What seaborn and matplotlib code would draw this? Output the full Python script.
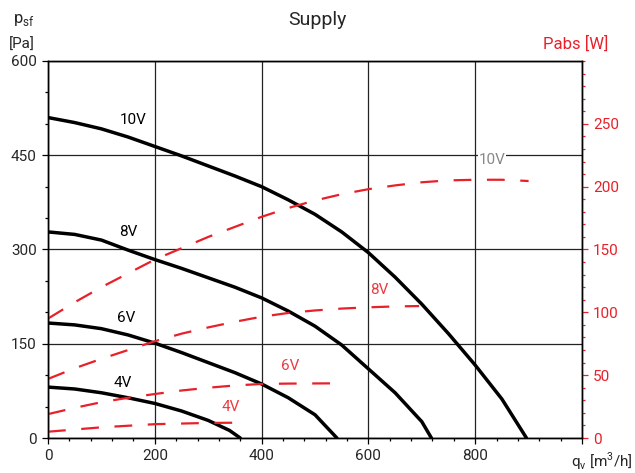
import matplotlib
matplotlib.use("Agg")
import matplotlib.pyplot as plt
import seaborn as sns
from matplotlib.ticker import MultipleLocator, FixedLocator

# Pressure curves (q_v [m3/h] -> p_sf [Pa])
q_10v = [0, 50, 100, 150, 200, 250, 300, 350, 400, 450, 500, 550, 600, 650, 700, 750, 800, 850, 896]
p_10v = [510, 502, 492, 479, 464, 449, 433, 417, 400, 379, 356, 328, 295, 256, 213, 166, 116, 62, 0]
q_8v = [0, 50, 100, 150, 200, 250, 300, 350, 400, 450, 500, 550, 600, 650, 700, 718]
p_8v = [328, 324, 315, 299, 284, 270, 255, 240, 223, 202, 178, 148, 110, 72, 26, 0]
q_6v = [0, 50, 100, 150, 200, 250, 300, 350, 400, 450, 500, 541]
p_6v = [183, 180, 174, 164, 151, 136, 120, 104, 86, 64, 37, 0]
q_4v = [0, 50, 100, 150, 200, 250, 300, 340, 360]
p_4v = [81, 78, 72, 64, 55, 43, 28, 12, 0]

# Power curves (q_v [m3/h] -> Pabs [W])
qw_10v = [0, 50, 100, 150, 200, 250, 300, 350, 400, 450, 500, 550, 600, 650, 700, 750, 800, 850, 900]
w_10v = [95, 108, 120, 131, 142, 151, 160, 168, 176, 183, 189, 194, 198, 201, 203.5, 205, 205.5, 205.5, 204.5]
qw_8v = [0, 50, 100, 150, 200, 250, 300, 350, 400, 450, 500, 550, 600, 650, 695]
w_8v = [47, 55.5, 63, 70, 77, 83, 88, 92.5, 96.5, 99.5, 101.5, 103, 104, 104.7, 105]
qw_6v = [0, 50, 100, 150, 200, 250, 300, 350, 400, 450, 540]
w_6v = [19, 24, 28.5, 32, 35, 37.8, 40, 41.8, 43, 43.3, 43.5]
qw_4v = [0, 100, 200, 300, 365]
w_4v = [5, 8.5, 11, 12, 12.2]

red = "#e8202a"

sns.set_style("ticks")
plt.rcParams["font.family"] = ["Roboto", "DejaVu Sans"]

fig = plt.figure(figsize=(6.35, 4.73), dpi=100)
ax = fig.add_axes([48 / 635, 1 - 438 / 473, (582 - 48) / 635, (438 - 61) / 473])
ax2 = ax.twinx()

# pressure curves
for q, p in [(q_10v, p_10v), (q_8v, p_8v), (q_6v, p_6v), (q_4v, p_4v)]:
    sns.lineplot(x=q, y=p, ax=ax, color="black", linewidth=2.5, sort=False)

# power curves
for q, w in [(qw_10v, w_10v), (qw_8v, w_8v), (qw_6v, w_6v), (qw_4v, w_4v)]:
    sns.lineplot(x=q, y=w, ax=ax2, color=red, linewidth=1.6, sort=False)
    ax2.lines[-1].set_dashes((8, 7))

ax.set_xlim(0, 1000)
ax.set_ylim(0, 600)
ax2.set_ylim(0, 300)

ax.xaxis.set_major_locator(FixedLocator([0, 200, 400, 600, 800, 1000]))
ax.set_xticklabels(["0", "200", "400", "600", "800", ""])
ax.xaxis.set_minor_locator(MultipleLocator(40))
ax.yaxis.set_major_locator(MultipleLocator(150))
ax.yaxis.set_minor_locator(MultipleLocator(50))
ax.grid(True, which="major", color="#222222", linewidth=0.9)
ax.tick_params(which="major", length=4.5, width=0.9, labelsize=11, color="black")
ax.tick_params(which="minor", length=2.5, width=0.9, color="black")

ax2.yaxis.set_major_locator(FixedLocator([0, 50, 100, 150, 200, 250]))
ax2.yaxis.set_minor_locator(MultipleLocator(10))
ax2.tick_params(axis="y", which="major", length=4.5, width=0.9, colors=red, labelsize=11)
ax2.tick_params(axis="y", which="minor", length=2.5, width=0.9, colors=red)

for a in (ax, ax2):
    for s in a.spines.values():
        s.set_color("black")
        s.set_linewidth(1.0)
ax.set_xlabel("")
ax.set_ylabel("")
ax2.set_ylabel("")

# curve labels
for txt, q, p in [("10V", 159, 506), ("8V", 150, 328), ("6V", 146, 191), ("4V", 140, 88)]:
    ax.text(q, p, txt, fontsize=11, ha="center", va="center", color="black")
for txt, q, w in [("8V", 621, 118), ("6V", 453, 57), ("4V", 342, 25)]:
    ax2.text(q, w, txt, fontsize=11, ha="center", va="center", color="#ec3a42")
ax2.text(832, 221, "10V", fontsize=11, ha="center", va="center", color="#888888",
         bbox=dict(facecolor="white", edgecolor="none", pad=0.5))

fig.text(0.5, 1 - 20 / 473, "Supply", fontsize=14, ha="center", va="center")
fig.text(24 / 635, 1 - 20 / 473, r"p$_\mathregular{sf}$", fontsize=12, ha="center", va="center")
fig.text(22 / 635, 1 - 45 / 473, "[Pa]", fontsize=11, ha="center", va="center")
fig.text(608 / 635, 1 - 44 / 473, "Pabs [W]", fontsize=12, ha="right", va="center", color=red)
fig.text(633 / 635, 1 - 461 / 473, r"q$_\mathregular{v}$ [m$^\mathregular{3}$/h]", fontsize=11,
         ha="right", va="center")

fig.savefig("out.png", dpi=100)
